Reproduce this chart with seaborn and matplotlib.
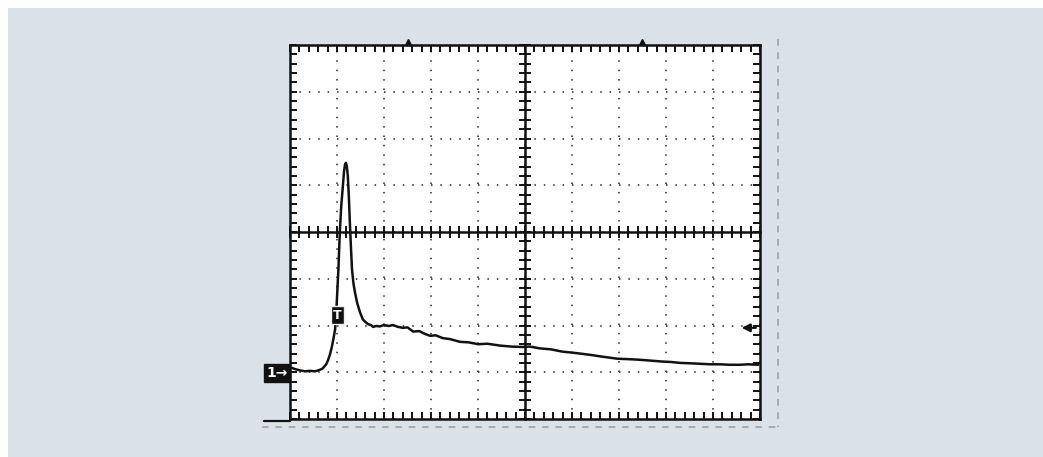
import numpy as np
import pandas as pd
import matplotlib
matplotlib.use("Agg")
import matplotlib.pyplot as plt
import seaborn as sns
from matplotlib.ticker import MultipleLocator, NullFormatter
from matplotlib.patches import Rectangle

# Trace, in divisions (x: 0..10, y: -4..4)
time_div = [0.00, 0.10, 0.21, 0.32, 0.43, 0.53, 0.60, 0.68, 0.72, 0.77, 0.81, 0.85,
            0.89, 0.93, 0.96, 0.98, 1.00, 1.03, 1.06, 1.09, 1.13, 1.15, 1.17, 1.19,
            1.21, 1.23, 1.25, 1.28, 1.30, 1.32, 1.35, 1.38, 1.43, 1.49, 1.55, 1.60,
            1.66, 1.72, 1.77, 1.83, 1.91, 2.00, 2.10, 2.19, 2.30, 2.40, 2.50, 2.62,
            2.75, 2.87, 2.98, 3.10, 3.25, 3.40, 3.62, 3.80, 4.00, 4.20, 4.47, 4.70,
            4.95, 5.10, 5.32, 5.55, 5.80, 6.00, 6.17, 6.40, 6.60, 6.96, 7.20, 7.40,
            7.66, 7.90, 8.10, 8.30, 8.55, 8.75, 8.94, 9.15, 9.35, 9.57, 9.75, 9.96]
volt_div = [-2.89, -2.93, -2.96, -2.98, -2.97, -2.98, -2.96, -2.93, -2.89, -2.83, -2.74, -2.62,
            -2.46, -2.25, -2.08, -1.80, -1.40, -0.80, 0.00, 0.55, 1.05, 1.30, 1.44, 1.48,
            1.40, 1.20, 0.80, 0.05, -0.40, -0.81, -1.10, -1.28, -1.52, -1.72, -1.87, -1.92,
            -1.97, -1.99, -2.03, -2.01, -2.02, -1.99, -2.01, -1.99, -2.03, -2.05, -2.04, -2.13,
            -2.12, -2.18, -2.22, -2.21, -2.27, -2.29, -2.35, -2.36, -2.40, -2.39, -2.43, -2.45,
            -2.46, -2.45, -2.49, -2.51, -2.56, -2.58, -2.60, -2.63, -2.66, -2.71, -2.72, -2.73,
            -2.75, -2.77, -2.78, -2.80, -2.81, -2.82, -2.83, -2.83, -2.84, -2.84, -2.83, -2.84]

x_divs = 10
y_divs = 8
ground_level = -3.02
trigger_pos = (1.01, -1.78)
trigger_level = -2.05
top_markers = [2.51, 7.49]

sns.set_theme(style="white")
plt.rcParams["font.family"] = ["DejaVu Sans"]

W, H = 1043, 457
fig = plt.figure(figsize=(W / 100, H / 100), dpi=100, facecolor="white")
fig.patches.append(Rectangle((8 / W, 0), 1 - 8 / W, 1 - 8 / H, transform=fig.transFigure,
                             facecolor="#dae2e8", edgecolor="none", zorder=-10))

rect = [290 / W, 38 / H, 470 / W, 374 / H]
ax = fig.add_axes(rect)
ax.set_facecolor("white")
ax.set_xlim(0, x_divs)
ax.set_ylim(-y_divs / 2, y_divs / 2)
for a in (ax.xaxis, ax.yaxis):
    a.set_major_locator(MultipleLocator(1))
    a.set_minor_locator(MultipleLocator(0.2))
    a.set_major_formatter(NullFormatter())
ax.tick_params(which="both", direction="in", top=True, right=True, bottom=True, left=True,
               length=5, width=1.4, color="#111")
for s in ax.spines.values():
    s.set_color("#111")
    s.set_linewidth(1.8)
ax.grid(True, which="major", color="#333", linestyle=(0, (0.9, 4.74)), linewidth=1.2)

df = pd.DataFrame({"t": time_div, "v": volt_div})
sns.lineplot(data=df, x="t", y="v", ax=ax, color="#111", linewidth=1.8,
             estimator=None, sort=False, zorder=5)
ax.set_xlabel("")
ax.set_ylabel("")

# center crosshair with ticks
ax2 = fig.add_axes(rect, facecolor="none")
ax2.set_xlim(0, x_divs)
ax2.set_ylim(-y_divs / 2, y_divs / 2)
ax2.spines["left"].set_position(("data", x_divs / 2))
ax2.spines["bottom"].set_position(("data", 0))
ax2.spines["top"].set_visible(False)
ax2.spines["right"].set_visible(False)
for s in ("left", "bottom"):
    ax2.spines[s].set_color("#111")
    ax2.spines[s].set_linewidth(1.8)
for a in (ax2.xaxis, ax2.yaxis):
    a.set_major_locator(MultipleLocator(1))
    a.set_minor_locator(MultipleLocator(0.2))
    a.set_major_formatter(NullFormatter())
ax2.tick_params(which="both", direction="inout", length=8, width=1.4, color="#111",
                bottom=True, left=True, top=False, right=False)

# markers
ax.text(-0.28, ground_level, "1→", color="white", fontweight="bold", fontsize=10,
        ha="center", va="center", clip_on=False, zorder=10,
        bbox=dict(boxstyle="square,pad=0.15", fc="#111", ec="#111"))
ax.text(trigger_pos[0], trigger_pos[1], "T", color="white", fontweight="bold", fontsize=9,
        ha="center", va="center", zorder=10,
        bbox=dict(boxstyle="square,pad=0.2", fc="#111", ec="#eee", lw=1))
ax.annotate("", xy=(9.55, trigger_level), xytext=(9.97, trigger_level),
            arrowprops=dict(arrowstyle="-|>", color="#111", lw=1.6, mutation_scale=12),
            zorder=10)
for m in top_markers:
    ax.plot([m], [4.07], marker="^", color="#111", markersize=5, clip_on=False, zorder=10)

# outer dashed frame
ax.plot([10.38, 10.38], [4.12, -4.17], color="#9aa3ab", lw=1.2, ls=(0, (4, 4)), clip_on=False)
ax.plot([-0.6, 10.38], [-4.17, -4.17], color="#9aa3ab", lw=1.2, ls=(0, (4, 4)), clip_on=False)
ax.plot([-0.55, 0.0], [-4.04, -4.04], color="#111", lw=1.6, clip_on=False)

fig.savefig("out.png", dpi=100, facecolor=fig.get_facecolor())
